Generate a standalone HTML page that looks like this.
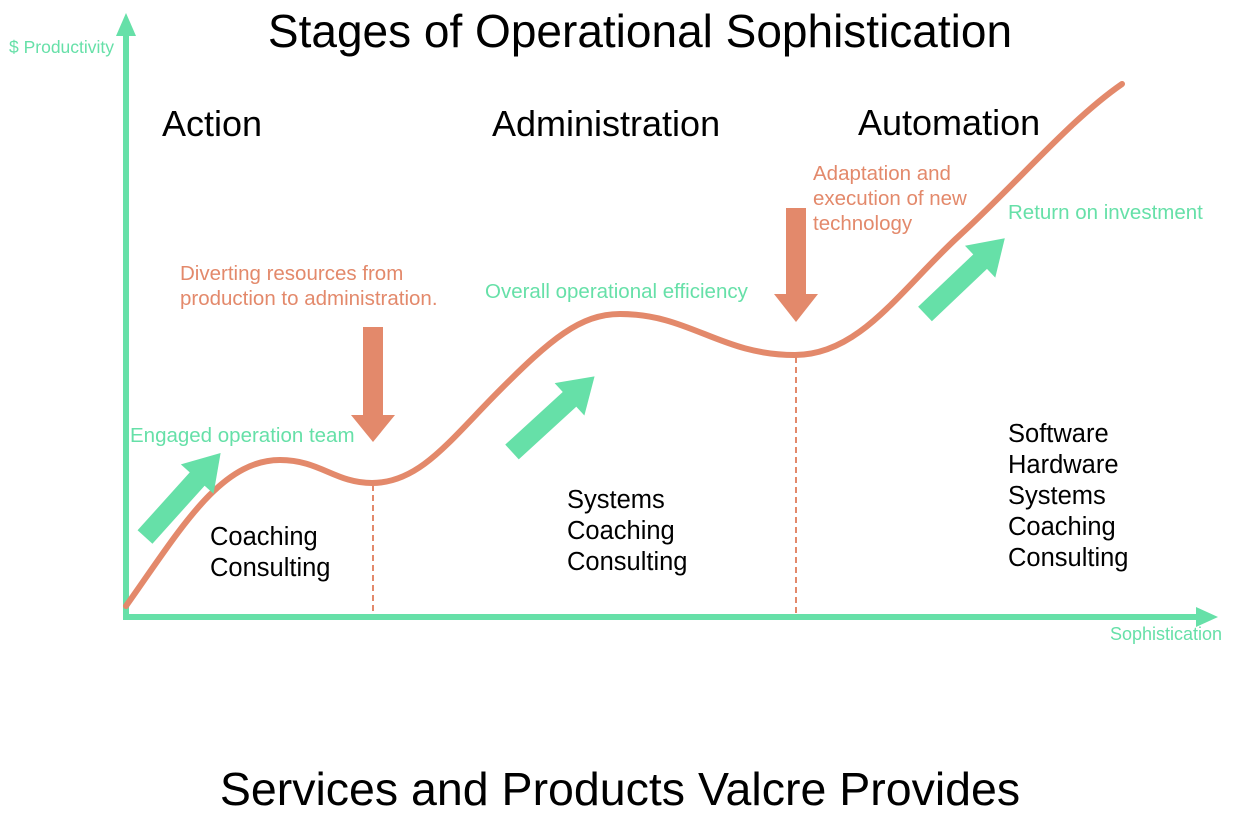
<!DOCTYPE html>
<html><head><meta charset="utf-8"><style>
html,body{margin:0;padding:0;background:#fff;}
svg{display:block;}
text{font-family:"Liberation Sans",Arial,sans-serif;}
</style></head><body>
<svg width="1240" height="822" viewBox="0 0 1240 822" xmlns="http://www.w3.org/2000/svg">
<!-- axes -->
<rect x="123" y="30" width="6" height="590" fill="#66e0a8"/>
<polygon points="126,13 116,36 136,36" fill="#66e0a8"/>
<rect x="123" y="614" width="1080" height="6" fill="#66e0a8"/>
<polygon points="1218,617 1196,607 1196,627" fill="#66e0a8"/>
<text x="9" y="53" font-size="17.5" fill="#66e0a8">$ Productivity</text>
<text x="1110" y="640" font-size="18" fill="#66e0a8">Sophistication</text>

<!-- dashed lines -->
<line x1="373" y1="485" x2="373" y2="615" stroke="#e3896b" stroke-width="2" stroke-dasharray="6,4"/>
<line x1="796" y1="357" x2="796" y2="615" stroke="#e3896b" stroke-width="2" stroke-dasharray="6,4"/>

<!-- curve -->
<path d="M126,606 C180,530 220,460 280,460 C320,460 335,483 372,483 C420,483 450,440 500,390 C550,340 580,314 620,314 C690,314 720,355 795,355 C860,355 900,290 960,235 C1020,180 1070,120 1122,84" fill="none" stroke="#e3896b" stroke-width="6" stroke-linecap="round"/>

<!-- green arrows -->
<g fill="#66e0a8">
<g transform="translate(145,537) rotate(-48)"><rect x="0" y="-10" width="80" height="20"/><polygon points="78,-22 113,0 78,22"/></g>
<g transform="translate(512,452) rotate(-42.5)"><rect x="0" y="-10" width="80" height="20"/><polygon points="78,-22 112,0 78,22"/></g>
<g transform="translate(925,314) rotate(-43.5)"><rect x="0" y="-10" width="78" height="20"/><polygon points="76,-22 110,0 76,22"/></g>
</g>

<!-- orange down arrows -->
<g fill="#e3896b">
<rect x="363" y="327" width="20" height="90"/><polygon points="351,415 395,415 373,442"/>
<rect x="786" y="208" width="20" height="88"/><polygon points="774,294 818,294 796,322"/>
</g>

<!-- titles -->
<text x="640" y="47" font-size="46" text-anchor="middle" fill="#000">Stages of Operational Sophistication</text>
<text x="620" y="805" font-size="46.5" text-anchor="middle" fill="#000">Services and Products Valcre Provides</text>
<text x="162" y="136" font-size="36" fill="#000">Action</text>
<text x="492" y="136" font-size="36" fill="#000">Administration</text>
<text x="858" y="135" font-size="36" fill="#000">Automation</text>

<!-- annotations -->
<g font-size="20.5" fill="#e3896b">
<text x="180" y="280">Diverting resources from</text>
<text x="180" y="305">production to administration.</text>
<text x="813" y="180">Adaptation and</text>
<text x="813" y="205">execution of new</text>
<text x="813" y="230">technology</text>
</g>
<g font-size="20.5" fill="#66e0a8">
<text x="130" y="442">Engaged operation team</text>
<text x="485" y="298">Overall operational efficiency</text>
<text x="1008" y="219">Return on investment</text>
</g>

<!-- lists -->
<g font-size="25.5" fill="#000">
<text x="210" y="545">Coaching</text>
<text x="210" y="576">Consulting</text>
<text x="567" y="508">Systems</text>
<text x="567" y="539">Coaching</text>
<text x="567" y="570">Consulting</text>
<text x="1008" y="442">Software</text>
<text x="1008" y="473">Hardware</text>
<text x="1008" y="504">Systems</text>
<text x="1008" y="535">Coaching</text>
<text x="1008" y="566">Consulting</text>
</g>
</svg>
</body></html>
